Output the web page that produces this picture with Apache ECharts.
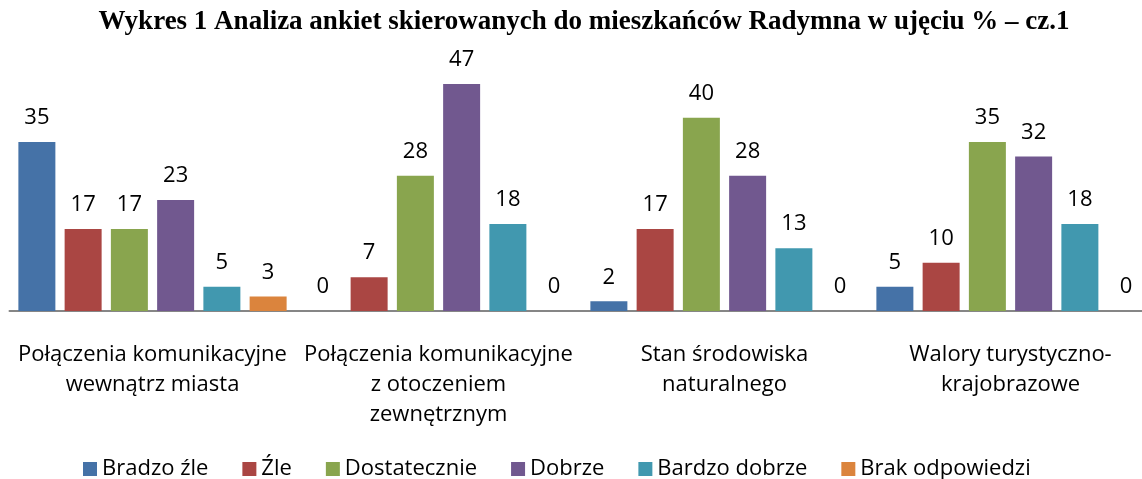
<!DOCTYPE html>
<html>
<head>
<meta charset="utf-8">
<script src="https://cdn.jsdelivr.net/npm/echarts@6/dist/echarts.min.js"></script>
<style>
    html, body { margin: 0; padding: 0; background: #fff; }
    #chart { width: 1142px; height: 479px; }
</style>
</head>
<body>
<div id="chart"></div>
<script>
// Data
const categories = [
    'Połączenia komunikacyjne\nwewnątrz miasta',
    'Połączenia komunikacyjne\nz otoczeniem\nzewnętrznym',
    'Stan środowiska\nnaturalnego',
    'Walory turystyczno-\nkrajobrazowe'
];
const seriesNames = ['Bradzo źle', 'Źle', 'Dostatecznie', 'Dobrze', 'Bardzo dobrze', 'Brak odpowiedzi'];
const bradzoZle = [35, 0, 2, 5];
const zle = [17, 7, 17, 10];
const dostatecznie = [17, 28, 40, 35];
const dobrze = [23, 47, 28, 32];
const bardzoDobrze = [5, 18, 13, 18];
const brakOdpowiedzi = [3, 0, 0, 0];

const values = [bradzoZle, zle, dostatecznie, dobrze, bardzoDobrze, brakOdpowiedzi];
const colors = ['#4572A7', '#AA4643', '#89A54E', '#71588F', '#4198AF', '#DB843D'];
const labelFont = '"Open Sans", sans-serif';

let myChart = echarts.init(document.getElementById('chart'));

const series = seriesNames.map((name, i) => ({
    name: name,
    type: 'bar',
    data: values[i],
    barWidth: 37,
    barGap: '25%',
    itemStyle: { color: colors[i] },
    label: {
        show: true,
        position: 'top',
        distance: 13,
        color: '#000',
        fontFamily: labelFont,
        fontSize: 22
    }
}));

const option = {
    backgroundColor: '#fff',
    animation: false,
    title: {
        text: 'Wykres 1 Analiza ankiet skierowanych do mieszkańców Radymna w ujęciu % – cz.1',
        left: 579,
        textAlign: 'center',
        top: 4,
        textStyle: {
            fontFamily: '"Liberation Serif", serif',
            fontWeight: 'bold',
            fontSize: 27,
            color: '#000'
        }
    },
    legend: {
        data: seriesNames,
        top: 453,
        left: 78,
        itemWidth: 14,
        itemHeight: 14,
        itemGap: 34,
        icon: 'rect',
        textStyle: { fontFamily: labelFont, fontSize: 22, color: '#000' }
    },
    grid: {
        left: 9.5,
        width: 1144,
        top: 69.5,
        bottom: 168,
        containLabel: false,
        outerBoundsMode: 'none'
    },
    xAxis: {
        type: 'category',
        data: categories,
        axisTick: { show: false },
        axisLine: { lineStyle: { color: '#868686', width: 2 } },
        axisLabel: {
            interval: 0,
            margin: 29,
            color: '#000',
            fontFamily: labelFont,
            fontSize: 22,
            lineHeight: 30
        }
    },
    yAxis: {
        type: 'value',
        min: 0,
        max: 50,
        show: false,
        splitLine: { show: false }
    },
    series: series
};

myChart.setOption(option, true);
</script>
</body>
</html>
